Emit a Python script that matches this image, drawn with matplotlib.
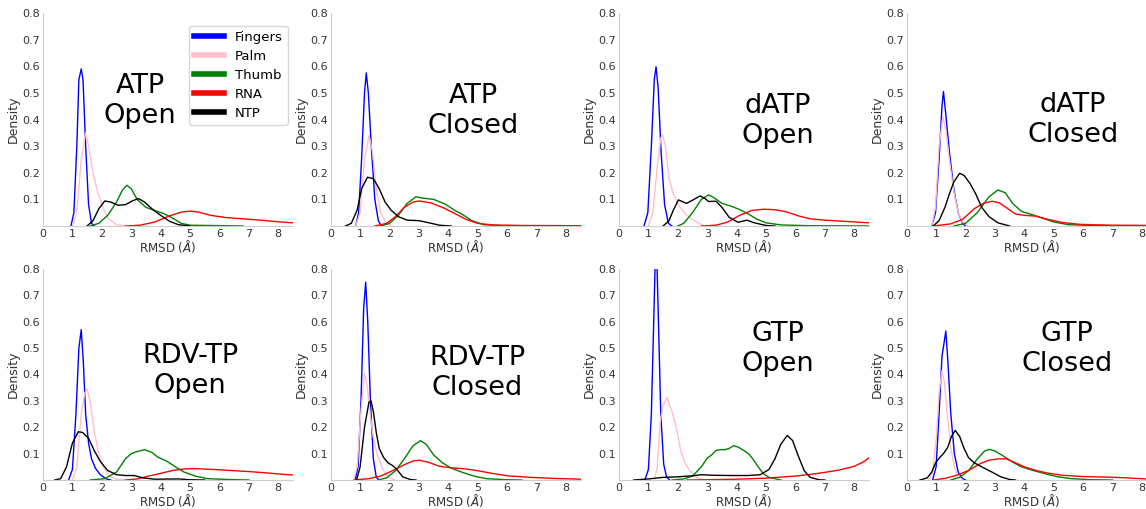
import matplotlib.pyplot as plt

series = ["Fingers", "Palm", "Thumb", "RNA", "NTP"]
colors = {"Fingers": "blue", "Palm": "pink", "Thumb": "green", "RNA": "red", "NTP": "black"}

# density curves, (RMSD, density) pairs per domain
atp_open = {
    "Fingers": [(0.95, 0), (1.05, 0.05), (1.15, 0.3), (1.22, 0.55), (1.3, 0.59), (1.36, 0.55),
                (1.45, 0.3), (1.55, 0.08), (1.65, 0.01), (1.75, 0)],
    "Palm": [(1.0, 0), (1.15, 0.05), (1.3, 0.25), (1.45, 0.35), (1.55, 0.3), (1.7, 0.2), (1.85, 0.13),
             (2.0, 0.08), (2.2, 0.03), (2.5, 0.005), (2.8, 0)],
    "Thumb": [(1.6, 0), (1.9, 0.01), (2.2, 0.04), (2.5, 0.09), (2.7, 0.135), (2.85, 0.153), (3.0, 0.14),
              (3.2, 0.1), (3.5, 0.07), (3.8, 0.058), (4.1, 0.047), (4.4, 0.03), (4.7, 0.01), (5.0, 0.003),
              (6.8, 0)],
    "RNA": [(2.8, 0), (3.3, 0.003), (3.8, 0.015), (4.3, 0.038), (4.7, 0.052), (5.0, 0.056), (5.3, 0.052),
            (5.7, 0.04), (6.2, 0.032), (6.8, 0.027), (7.4, 0.022), (8.0, 0.016), (8.5, 0.012)],
    "NTP": [(1.5, 0), (1.7, 0.02), (1.9, 0.065), (2.1, 0.094), (2.3, 0.09), (2.55, 0.078), (2.8, 0.08),
            (3.05, 0.095), (3.25, 0.103), (3.45, 0.09), (3.7, 0.065), (4.0, 0.04), (4.3, 0.018),
            (4.6, 0.005), (5.0, 0)],
}
atp_closed = {
    "Fingers": [(0.85, 0), (0.95, 0.05), (1.05, 0.25), (1.15, 0.5), (1.21, 0.575), (1.28, 0.5), (1.38, 0.3),
                (1.5, 0.1), (1.62, 0.02), (1.72, 0)],
    "Palm": [(0.85, 0), (1.0, 0.05), (1.15, 0.25), (1.3, 0.34), (1.42, 0.28), (1.55, 0.14), (1.7, 0.05),
             (1.9, 0.01), (2.1, 0)],
    "Thumb": [(1.7, 0), (2.0, 0.01), (2.3, 0.04), (2.6, 0.085), (2.9, 0.11), (3.1, 0.105), (3.5, 0.1),
              (3.9, 0.082), (4.2, 0.06), (4.5, 0.042), (4.8, 0.02), (5.2, 0.005), (5.8, 0.001), (8.5, 0.001)],
    "RNA": [(1.5, 0), (1.9, 0.01), (2.2, 0.035), (2.5, 0.07), (2.8, 0.09), (3.0, 0.094), (3.4, 0.087),
            (3.8, 0.07), (4.2, 0.048), (4.6, 0.025), (5.0, 0.01), (5.5, 0.004), (6.5, 0.002), (8.5, 0.001)],
    "NTP": [(0.5, 0), (0.7, 0.01), (0.9, 0.06), (1.05, 0.14), (1.25, 0.183), (1.45, 0.178), (1.65, 0.14),
            (1.85, 0.09), (2.05, 0.06), (2.3, 0.035), (2.6, 0.022), (3.0, 0.02), (3.3, 0.013), (3.7, 0.003),
            (4.1, 0)],
}
datp_open = {
    "Fingers": [(0.85, 0), (0.98, 0.05), (1.1, 0.3), (1.2, 0.55), (1.26, 0.598), (1.33, 0.52), (1.43, 0.28),
                (1.55, 0.08), (1.68, 0.01), (1.8, 0)],
    "Palm": [(1.0, 0), (1.15, 0.05), (1.3, 0.22), (1.42, 0.33), (1.48, 0.342), (1.58, 0.3), (1.7, 0.18),
             (1.85, 0.12), (2.05, 0.075), (2.3, 0.04), (2.55, 0.02), (2.9, 0)],
    "Thumb": [(2.0, 0), (2.2, 0.01), (2.5, 0.05), (2.8, 0.1), (3.05, 0.117), (3.25, 0.105), (3.5, 0.085),
              (3.8, 0.075), (4.1, 0.062), (4.4, 0.045), (4.7, 0.025), (5.0, 0.012), (5.5, 0.004),
              (6.5, 0.001), (8.5, 0)],
    "RNA": [(2.8, 0), (3.3, 0.003), (3.7, 0.015), (4.1, 0.04), (4.5, 0.058), (4.9, 0.063), (5.3, 0.061),
            (5.7, 0.053), (6.1, 0.038), (6.5, 0.027), (7.0, 0.022), (7.6, 0.018), (8.5, 0.012)],
    "NTP": [(1.5, 0), (1.7, 0.02), (1.85, 0.06), (2.02, 0.098), (2.15, 0.092), (2.3, 0.085), (2.5, 0.097),
            (2.76, 0.113), (2.9, 0.105), (3.05, 0.092), (3.3, 0.093), (3.5, 0.07), (3.75, 0.032),
            (4.05, 0.014), (4.35, 0.022), (4.6, 0.012), (5.0, 0.002), (5.3, 0)],
}
datp_closed = {
    "Fingers": [(0.85, 0), (0.98, 0.05), (1.1, 0.25), (1.2, 0.45), (1.25, 0.505), (1.32, 0.43), (1.45, 0.28),
                (1.6, 0.14), (1.75, 0.05), (1.9, 0.01), (2.0, 0)],
    "Palm": [(0.85, 0), (0.98, 0.07), (1.1, 0.3), (1.23, 0.41), (1.33, 0.36), (1.45, 0.25), (1.6, 0.13),
             (1.75, 0.05), (1.9, 0.015), (2.1, 0)],
    "Thumb": [(1.6, 0), (2.0, 0.01), (2.4, 0.05), (2.8, 0.11), (3.1, 0.135), (3.35, 0.125), (3.6, 0.085),
              (3.9, 0.055), (4.2, 0.045), (4.6, 0.03), (5.0, 0.015), (5.5, 0.005), (6.5, 0.001), (8.5, 0)],
    "RNA": [(0.9, 0), (1.5, 0.008), (1.9, 0.025), (2.3, 0.065), (2.6, 0.085), (2.9, 0.093), (3.15, 0.087),
            (3.4, 0.068), (3.7, 0.045), (4.0, 0.04), (4.4, 0.037), (4.8, 0.025), (5.3, 0.013), (5.9, 0.006),
            (7.0, 0.003), (8.5, 0.002)],
    "NTP": [(0.9, 0), (1.1, 0.02), (1.3, 0.07), (1.45, 0.12), (1.6, 0.165), (1.8, 0.198), (1.95, 0.19),
            (2.15, 0.16), (2.35, 0.12), (2.55, 0.07), (2.8, 0.035), (3.1, 0.012), (3.5, 0)],
}
rdv_open = {
    "Fingers": [(0.87, 0), (1.0, 0.04), (1.12, 0.25), (1.22, 0.5), (1.3, 0.57), (1.37, 0.45), (1.45, 0.25),
                (1.55, 0.14), (1.65, 0.08), (1.78, 0.045), (1.95, 0.02), (2.15, 0.004), (2.3, 0)],
    "Palm": [(1.0, 0), (1.15, 0.05), (1.3, 0.25), (1.42, 0.33), (1.5, 0.345), (1.6, 0.3), (1.75, 0.18),
             (1.9, 0.1), (2.05, 0.05), (2.25, 0.015), (2.5, 0.003), (2.8, 0)],
    "Thumb": [(1.6, 0), (2.1, 0.005), (2.5, 0.03), (2.8, 0.08), (3.0, 0.1), (3.2, 0.108), (3.45, 0.115),
              (3.7, 0.105), (3.9, 0.087), (4.2, 0.072), (4.5, 0.05), (4.8, 0.03), (5.2, 0.014), (5.6, 0.005),
              (6.5, 0.001), (7.0, 0)],
    "RNA": [(2.8, 0), (3.2, 0.004), (3.6, 0.015), (4.0, 0.025), (4.4, 0.036), (4.8, 0.042), (5.2, 0.043),
            (5.8, 0.04), (6.4, 0.036), (7.0, 0.032), (7.6, 0.027), (8.1, 0.022), (8.5, 0.019)],
    "NTP": [(0.4, 0), (0.6, 0.005), (0.8, 0.05), (1.0, 0.14), (1.2, 0.183), (1.35, 0.18), (1.55, 0.158),
            (1.75, 0.11), (1.95, 0.07), (2.2, 0.036), (2.5, 0.02), (2.8, 0.017), (3.1, 0.017), (3.4, 0.008),
            (3.8, 0.003), (4.6, 0.004), (5.0, 0.001), (5.5, 0)],
}
rdv_closed = {
    "Fingers": [(0.83, 0), (0.93, 0.05), (1.03, 0.3), (1.12, 0.65), (1.19, 0.75), (1.26, 0.6), (1.35, 0.3),
                (1.45, 0.08), (1.55, 0.01), (1.65, 0)],
    "Palm": [(0.78, 0), (0.9, 0.05), (1.02, 0.25), (1.15, 0.405), (1.25, 0.35), (1.35, 0.24), (1.45, 0.16),
             (1.6, 0.09), (1.75, 0.045), (1.95, 0.012), (2.15, 0)],
    "Thumb": [(1.6, 0), (1.9, 0.008), (2.2, 0.035), (2.5, 0.08), (2.8, 0.13), (3.05, 0.149), (3.25, 0.135),
              (3.5, 0.095), (3.8, 0.065), (4.1, 0.045), (4.5, 0.028), (4.9, 0.014), (5.3, 0.005),
              (6.0, 0.001), (6.5, 0)],
    "RNA": [(0.8, 0), (1.3, 0.005), (1.7, 0.015), (2.1, 0.035), (2.5, 0.058), (2.8, 0.072), (3.0, 0.075),
            (3.3, 0.068), (3.7, 0.052), (4.1, 0.046), (4.6, 0.042), (5.0, 0.035), (5.5, 0.025), (6.0, 0.016),
            (6.8, 0.01), (7.6, 0.006), (8.5, 0.003)],
    "NTP": [(0.88, 0), (1.0, 0.05), (1.15, 0.2), (1.3, 0.295), (1.37, 0.3), (1.45, 0.26), (1.55, 0.18),
            (1.65, 0.12), (1.8, 0.085), (1.95, 0.065), (2.1, 0.055), (2.25, 0.04), (2.45, 0.012),
            (2.7, 0.002), (2.9, 0)],
}
gtp_open = {
    "Fingers": [(0.88, 0), (1.0, 0.04), (1.1, 0.25), (1.18, 0.6), (1.26, 0.95), (1.33, 0.65), (1.42, 0.25),
                (1.52, 0.06), (1.62, 0.01), (1.72, 0)],
    "Palm": [(1.2, 0), (1.3, 0.05), (1.4, 0.22), (1.5, 0.285), (1.58, 0.3), (1.63, 0.313), (1.7, 0.29),
             (1.8, 0.26), (1.9, 0.22), (2.0, 0.17), (2.1, 0.11), (2.25, 0.065), (2.4, 0.035), (2.6, 0.012),
             (2.9, 0)],
    "Thumb": [(1.8, 0), (2.2, 0.004), (2.5, 0.015), (2.8, 0.05), (3.0, 0.083), (3.15, 0.095), (3.3, 0.112),
              (3.45, 0.115), (3.6, 0.115), (3.75, 0.12), (3.9, 0.13), (4.05, 0.125), (4.2, 0.115),
              (4.4, 0.1), (4.55, 0.08), (4.7, 0.055), (4.9, 0.025), (5.1, 0.01), (5.5, 0)],
    "RNA": [(2.3, 0), (3.0, 0.001), (4.0, 0.003), (5.0, 0.007), (5.5, 0.011), (6.0, 0.015), (6.5, 0.021),
            (7.0, 0.029), (7.5, 0.038), (8.0, 0.052), (8.3, 0.068), (8.5, 0.084)],
    "NTP": [(0.5, 0), (1.0, 0.004), (1.5, 0.01), (2.0, 0.012), (2.5, 0.016), (2.8, 0.02), (3.2, 0.018),
            (3.8, 0.017), (4.4, 0.017), (4.8, 0.02), (5.1, 0.04), (5.3, 0.08), (5.5, 0.135), (5.72, 0.169),
            (5.9, 0.15), (6.1, 0.09), (6.3, 0.035), (6.5, 0.01), (6.8, 0.001), (7.0, 0)],
}
gtp_closed = {
    "Fingers": [(0.88, 0), (1.0, 0.05), (1.1, 0.25), (1.2, 0.47), (1.25, 0.505), (1.33, 0.565), (1.4, 0.45),
                (1.5, 0.25), (1.62, 0.1), (1.75, 0.03), (1.9, 0.005), (2.0, 0)],
    "Palm": [(0.75, 0), (0.88, 0.03), (1.0, 0.15), (1.1, 0.33), (1.2, 0.415), (1.28, 0.37), (1.38, 0.25),
             (1.5, 0.12), (1.62, 0.05), (1.75, 0.015), (1.9, 0)],
    "Thumb": [(1.5, 0), (1.8, 0.01), (2.1, 0.035), (2.4, 0.08), (2.65, 0.11), (2.82, 0.116), (3.0, 0.11),
              (3.3, 0.09), (3.6, 0.068), (3.9, 0.05), (4.3, 0.036), (4.7, 0.024), (5.1, 0.013), (5.6, 0.005),
              (6.3, 0.001), (7.0, 0)],
    "RNA": [(0.9, 0), (1.3, 0.006), (1.7, 0.018), (2.1, 0.036), (2.5, 0.062), (2.8, 0.075), (3.1, 0.08),
            (3.4, 0.08), (3.7, 0.065), (4.0, 0.05), (4.4, 0.036), (4.8, 0.026), (5.3, 0.018), (6.0, 0.013),
            (6.8, 0.011), (7.5, 0.008), (8.1, 0.004), (8.5, 0.002)],
    "NTP": [(0.45, 0), (0.7, 0.008), (0.85, 0.03), (0.98, 0.065), (1.12, 0.085), (1.25, 0.1), (1.4, 0.125),
            (1.52, 0.165), (1.65, 0.188), (1.8, 0.165), (1.95, 0.12), (2.1, 0.085), (2.3, 0.065),
            (2.6, 0.047), (2.9, 0.03), (3.2, 0.012), (3.5, 0.002), (3.7, 0)],
}

panels = [atp_open, atp_closed, datp_open, datp_closed, rdv_open, rdv_closed, gtp_open, gtp_closed]
titles = ["ATP\nOpen", "ATP\nClosed", "dATP\nOpen", "dATP\nClosed",
          "RDV-TP\nOpen", "RDV-TP\nClosed", "GTP\nOpen", "GTP\nClosed"]
title_pos = [(0.388, 0.589), (0.569, 0.54), (0.636, 0.495), (0.665, 0.496),
             (0.588, 0.517), (0.585, 0.505), (0.636, 0.623), (0.641, 0.623)]

W, H = 1146, 509
fig = plt.figure(figsize=(W / 100, H / 100), dpi=100)

lefts = [43, 330.7, 619, 906.7]
tops = [226, 480]  # pixel row of y=0 for each row
heights = [213, 211]

for i, data in enumerate(panels):
    row, col = divmod(i, 4)
    ax = fig.add_axes([lefts[col] / W, 1 - tops[row] / H, 250 / W, heights[row] / H])
    for name in series:
        xs = [p[0] for p in data[name]]
        ys = [p[1] for p in data[name]]
        ax.plot(xs, ys, color=colors[name], lw=1.0, label=name)
    ax.set_xlim(0, 8.5)
    ax.set_ylim(0, 0.8)
    ax.set_xticks(range(0, 9))
    ax.set_yticks([0.1, 0.2, 0.3, 0.4, 0.5, 0.6, 0.7, 0.8])
    ax.tick_params(length=0, labelsize=8, labelcolor="#333333", pad=2)
    for s in ["top", "right"]:
        ax.spines[s].set_visible(False)
    for s in ["left", "bottom"]:
        ax.spines[s].set_color("#cccccc")
        ax.spines[s].set_linewidth(0.8)
    ax.set_xlabel(r"RMSD ($Å$)", fontsize=8.6, color="#333333", labelpad=-0.3)
    ax.set_ylabel("Density", fontsize=9, color="#333333", labelpad=2)
    tx, ty = title_pos[i]
    ax.text(tx, ty, titles[i], transform=ax.transAxes, ha="center", va="center",
            fontsize=19.5, linespacing=1.2)
    if i == 0:
        leg = ax.legend(loc="upper right", bbox_to_anchor=(0.98, 0.94), borderaxespad=0,
                        fontsize=9.5, handlelength=2.3, labelspacing=0.45, frameon=True)
        for line in leg.get_lines():
            line.set_linewidth(4)
        leg.get_frame().set_edgecolor("#cccccc")

fig.savefig("out.png", dpi=100)
